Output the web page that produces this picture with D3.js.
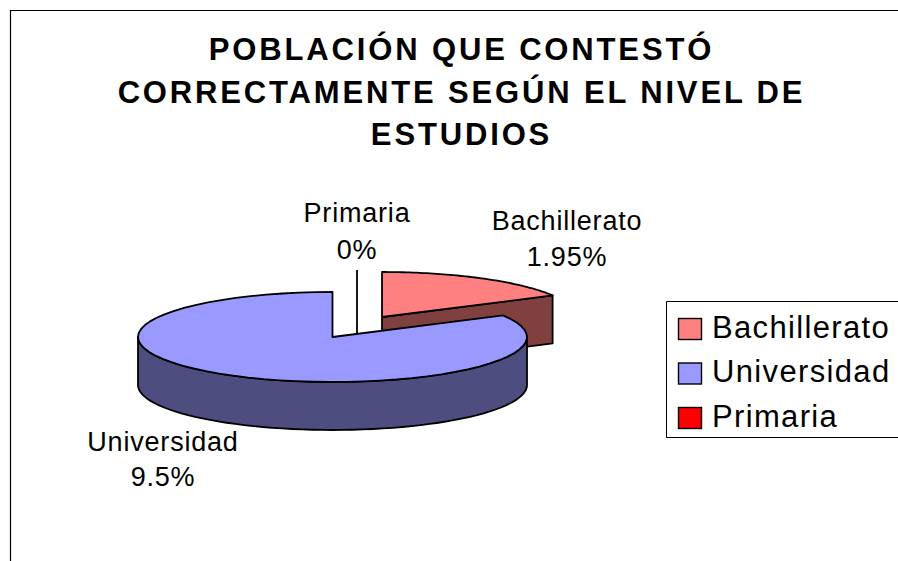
<!DOCTYPE html>
<html><head><meta charset="utf-8">
<script src="https://cdn.jsdelivr.net/npm/d3@7"></script>
<style>
html,body{margin:0;padding:0;background:#fff;overflow:hidden}
svg{display:block}
text{font-family:"Liberation Sans",Arial,sans-serif;fill:#000}
</style></head><body>
<svg id="chart" width="898" height="561"></svg>
<script>
const categories = ["Bachillerato","Universidad","Primaria"];
const values = [1.95, 9.5, 0];
const valueLabels = ["1.95%","9.5%","0%"];
const titleLines = ["POBLACIÓN QUE CONTESTÓ","CORRECTAMENTE SEGÚN EL NIVEL DE","ESTUDIOS"];
const topColors = ["#FF8080","#9999FF","#FF0000"];
const wallColors = ["#804040","#4D4D80","#800000"];

const svg = d3.select("#chart");
const RX = 194.5, RY = 45, DEPTH = 48;
const centers = [[382,317],[332.5,337],[357,315]];
const labelPos = [[567,230,266],[163,451,486],[357,222,259]];

svg.append("path").attr("d","M10.5,561V10.5H898").attr("fill","none").attr("stroke","#000").attr("stroke-width",1.2);

svg.selectAll("text.title").data(titleLines).join("text").attr("class","title")
  .attr("x",461.5).attr("y",(d,i)=>60+i*42.5).attr("text-anchor","middle")
  .attr("font-size",31).attr("font-weight","bold").attr("letter-spacing",2.85).text(d=>d);

const pie = d3.pie().sort(null).value(d=>d)(values);
const pt = (c,a,dz=0)=>[c[0]+RX*Math.sin(a), c[1]-RY*Math.cos(a)+dz];
const line = d3.line();
const arcPts = (c,a0,a1,dz=0)=>d3.range(0,61).map(k=>pt(c,a0+(a1-a0)*k/60,dz));

const stroke = g=>g.attr("stroke","#000").attr("stroke-width",1.8).attr("stroke-linejoin","round");

// Bachillerato: only the cut face is seen
{
  const s = pie[0], c = centers[0];
  const tip = pt(c,s.endAngle);
  svg.append("path").attr("d",line([c,tip,[tip[0],tip[1]+DEPTH],[c[0],c[1]+DEPTH]])+"Z")
    .attr("fill",wallColors[0]).call(stroke);
  svg.append("path").attr("d",line([c,...arcPts(c,s.startAngle,s.endAngle)])+"Z")
    .attr("fill",topColors[0]).call(stroke);
}
// Primaria: zero-width slice seen as a line
{
  const s = pie[2], c = centers[2];
  svg.append("path").attr("d",line([pt(c,s.endAngle),[c[0],c[1]+DEPTH]]))
    .attr("fill","none").call(stroke);
}
// Universidad
{
  const s = pie[1], c = centers[1];
  const a0 = Math.PI/2, a1 = Math.PI*1.5;
  svg.append("path").attr("d",line([...arcPts(c,a0,a1),...arcPts(c,a1,a0,DEPTH)])+"Z")
    .attr("fill",wallColors[1]).call(stroke);
  svg.append("path").attr("d",line([c,...arcPts(c,s.startAngle,s.endAngle)])+"Z")
    .attr("fill",topColors[1]).call(stroke);
}

categories.forEach((name,i)=>{
  const [x,y1,y2] = labelPos[i];
  svg.append("text").attr("x",x).attr("y",y1).attr("text-anchor","middle").attr("font-size",27).attr("letter-spacing",0.8).text(name);
  svg.append("text").attr("x",x).attr("y",y2).attr("text-anchor","middle").attr("font-size",27).attr("letter-spacing",0.8).text(valueLabels[i]);
});

// Legend
svg.append("path").attr("d","M898,301.5H666.5V437.5H898").attr("fill","#fff").attr("stroke","#000").attr("stroke-width",1);
const legendY = d3.scalePoint().domain(categories).range([318,407]);
const lg = svg.selectAll("g.lg").data(categories).join("g").attr("class","lg")
  .attr("transform",d=>`translate(0,${legendY(d)})`);
lg.append("rect").attr("x",678.5).attr("y",0.5).attr("width",23).attr("height",21)
  .attr("fill",(d,i)=>topColors[i]).attr("stroke","#000").attr("stroke-width",1.4);
lg.append("text").attr("x",712).attr("y",19.5).attr("font-size",31).attr("letter-spacing",1.35).text(d=>d);
</script></body></html>
